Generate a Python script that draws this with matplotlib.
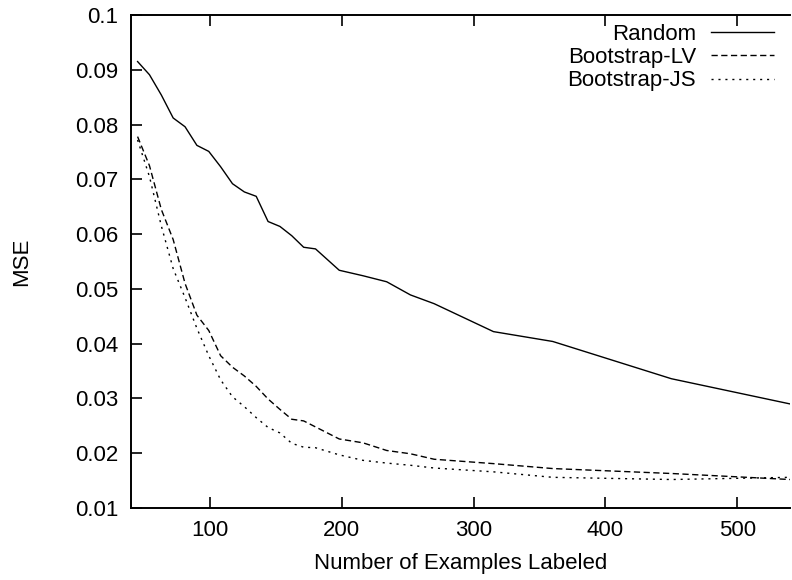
import matplotlib
matplotlib.use("Agg")
import matplotlib.pyplot as plt

plt.rcParams['font.family'] = ['Liberation Sans', 'DejaVu Sans']

# number of examples labeled
x_labeled = [45, 54, 63, 72, 81, 90, 99, 108, 117, 126, 135, 144, 153, 162, 171, 180,
             198, 216, 234, 252, 270, 315, 360, 450, 540]

mse_random = [0.0915, 0.0891, 0.0854, 0.0812, 0.0796, 0.0762, 0.0751, 0.0723, 0.0692,
              0.0677, 0.0669, 0.0623, 0.0614, 0.0597, 0.0576, 0.0573,
              0.0534, 0.0524, 0.0513, 0.0489, 0.0473, 0.0422, 0.0404, 0.0336, 0.0290]
mse_lv = [0.0778, 0.0725, 0.0645, 0.0590, 0.0510, 0.0452, 0.0424, 0.0378, 0.0357,
          0.0341, 0.0322, 0.0299, 0.0280, 0.0262, 0.0259, 0.0248,
          0.0226, 0.0219, 0.0205, 0.0199, 0.0189, 0.0181, 0.0172, 0.0163, 0.0152]
mse_js = [0.0772, 0.0705, 0.0615, 0.0537, 0.0484, 0.0428, 0.0378, 0.0334, 0.0303,
          0.0285, 0.0265, 0.0247, 0.0237, 0.0218, 0.0211, 0.0210,
          0.0197, 0.0187, 0.0182, 0.0178, 0.0173, 0.0166, 0.0156, 0.0152, 0.0156]

x_ticks = [100, 200, 300, 400, 500]
y_ticks = [0.01, 0.02, 0.03, 0.04, 0.05, 0.06, 0.07, 0.08, 0.09, 0.1]
y_tick_labels = ["0.01", "0.02", "0.03", "0.04", "0.05", "0.06", "0.07", "0.08", "0.09", "0.1"]

fig = plt.figure(figsize=(7.92, 5.8), dpi=100)
ax = fig.add_axes([131 / 792, 1 - 508 / 580, 659 / 792, 493 / 580])

ax.plot(x_labeled, mse_random, color='black', lw=1.0, label='Random')
ax.plot(x_labeled, mse_lv, color='black', lw=1.0, dashes=(4.5, 2.5), label='Bootstrap-LV')
ax.plot(x_labeled, mse_js, color='black', lw=1.0, dashes=(1.5, 3.5), label='Bootstrap-JS')

ax.set_xlim(40, 540)
ax.set_ylim(0.01, 0.1)
ax.set_xticks(x_ticks)
ax.set_yticks(y_ticks)
ax.set_yticklabels(y_tick_labels)

ax.spines['right'].set_visible(False)
for s in ['top', 'bottom', 'left']:
    ax.spines[s].set_linewidth(1.4)

ax.tick_params(direction='in', length=8, width=1.2, top=True, right=False,
               labelsize=16, pad=9)

ax.set_xlabel("Number of Examples Labeled", fontsize=16, labelpad=8)
ax.set_ylabel("MSE", fontsize=16)
ax.yaxis.set_label_coords(-0.15, 0.5)

leg = ax.legend(loc='upper right', bbox_to_anchor=(0.976, 0.982), frameon=False,
                markerfirst=False, alignment='right', fontsize=16,
                handlelength=2.85, handletextpad=0.66, labelspacing=0.1,
                borderaxespad=0, borderpad=0)

fig.savefig("out.png", dpi=100)
